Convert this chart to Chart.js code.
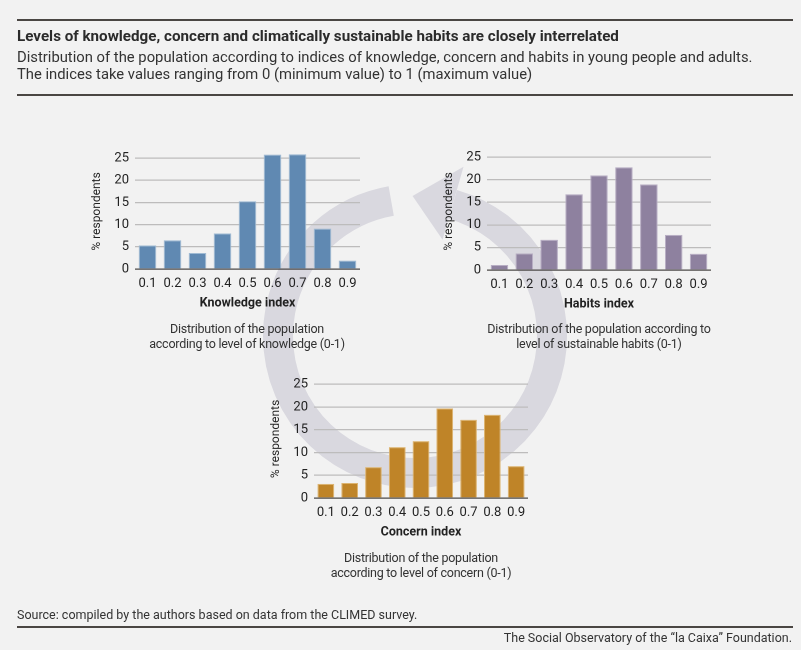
<!DOCTYPE html>
<html>
<head>
<meta charset="utf-8">
<script src="https://cdn.jsdelivr.net/npm/chart.js@4/dist/chart.umd.min.js"></script>
<style>
  html, body { margin: 0; padding: 0; }
  body { width: 801px; height: 650px; background: #f2f2f2; position: relative; overflow: hidden;
         font-family: Roboto, "Noto Sans", sans-serif; color: #333; }
  .abs { position: absolute; }
  .rule { position: absolute; left: 17px; width: 776px; height: 2px; background: #4a4643; }
  #title { left: 17px; top: 27px; font-size: 15.2px; font-weight: bold; color: #2b2b2b; white-space: nowrap; }
  #subtitle { left: 17px; top: 49px; font-size: 14.8px; line-height: 16.5px; color: #333; white-space: nowrap; }
  .caption { position: absolute; width: 300px; text-align: center; font-size: 12.5px; line-height: 15px; letter-spacing: -0.25px; color: #333; }
  #source { left: 17px; top: 607px; font-size: 12.5px; color: #333; white-space: nowrap; }
  #credit { right: 9px; top: 630px; font-size: 12.5px; color: #333; white-space: nowrap; }
  canvas.chart { position: absolute; }
</style>
</head>
<body>
<canvas id="ring" class="abs" width="801" height="650" style="left:0;top:0"></canvas>

<div class="rule" style="top:19px"></div>
<div id="title" class="abs">Levels of knowledge, concern and climatically sustainable habits are closely interrelated</div>
<div id="subtitle" class="abs">Distribution of the population according to indices of knowledge, concern and habits in young people and adults.<br>The indices take values ranging from 0 (minimum value) to 1 (maximum value)</div>
<div class="rule" style="top:94px"></div>

<canvas id="knowledgeChart" class="chart" style="left:90px;top:140px;width:275px;height:171px"></canvas>
<canvas id="habitsChart" class="chart" style="left:442px;top:139px;width:274px;height:173px"></canvas>
<canvas id="concernChart" class="chart" style="left:269px;top:366px;width:264px;height:174px"></canvas>

<div class="caption" style="left:97px;top:321px">Distribution of the population<br>according to level of knowledge (0-1)</div>
<div class="caption" style="left:449px;top:321px">Distribution of the population according to<br>level of sustainable habits (0-1)</div>
<div class="caption" style="left:271px;top:550px">Distribution of the population<br>according to level of concern (0-1)</div>

<div id="source" class="abs">Source: compiled by the authors based on data from the CLIMED survey.</div>
<div class="rule" style="top:626px"></div>
<div id="credit" class="abs">The Social Observatory of the “la Caixa” Foundation.</div>

<script>
// index categories (0-1)
var categorias = ['0.1', '0.2', '0.3', '0.4', '0.5', '0.6', '0.7', '0.8', '0.9'];
// % respondents per index level
var conhecimento = [5.3, 6.5, 3.6, 8.0, 15.3, 25.8, 25.9, 9.1, 1.9];
var habitos      = [1.1, 3.7, 6.7, 16.8, 21.0, 22.8, 19.0, 7.8, 3.6];
var preocupacao  = [3.1, 3.3, 6.8, 11.2, 12.5, 19.7, 17.2, 18.3, 7.0];
var ticksY = [0, 5, 10, 15, 20, 25];

(function () {

    // background circular arrow (decoration only)
    function desenharSeta() {
        var ctx = document.getElementById('ring').getContext('2d');
        var cx = 415, cy = 336, r = 137;
        var rad = Math.PI / 180;
        ctx.fillStyle = '#d9d8df';
        ctx.strokeStyle = '#d9d8df';
        ctx.lineWidth = 30;
        ctx.lineCap = 'butt';
        ctx.beginPath();
        ctx.arc(cx, cy, r, -74 * rad, 260 * rad);
        ctx.stroke();
        // arrow head
        var a = -74 * rad, t = -91 * rad;
        ctx.beginPath();
        ctx.moveTo(cx + 100 * Math.cos(a), cy + 100 * Math.sin(a));
        ctx.lineTo(cx + 176 * Math.cos(a), cy + 176 * Math.sin(a));
        ctx.lineTo(cx + 140 * Math.cos(t), cy + 140 * Math.sin(t));
        ctx.closePath();
        ctx.fill();
    }

    function gerarGrafico(id, valores, cor, borda, tituloX) {
        var canvas = document.getElementById(id);
        return new Chart(canvas, {
            type: 'bar',
            data: {
                labels: categorias,
                datasets: [{
                    data: valores,
                    backgroundColor: cor,
                    borderColor: borda,
                    borderWidth: {top: 1, left: 1, right: 1, bottom: 0},
                    barPercentage: 0.7,
                    categoryPercentage: 1
                }]
            },
            options: {
                responsive: false,
                animation: false,
                devicePixelRatio: 2,
                layout: {padding: {top: 5, right: 5, left: 0, bottom: 0}},
                plugins: {legend: {display: false}, tooltip: {enabled: false}},
                scales: {
                    x: {
                        grid: {display: false, drawTicks: false},
                        border: {display: false},
                        ticks: {color: '#222', padding: 7, font: {family: 'Roboto', size: 13}, maxRotation: 0},
                        title: {display: true, text: tituloX, color: '#222', padding: {top: 0, bottom: 0},
                                font: {family: 'Roboto', size: 12.5, weight: 'bold'}},
                        afterFit: function (scale) { scale.height = 42; }
                    },
                    y: {
                        min: 0,
                        max: 26,
                        grid: {
                            drawTicks: false,
                            lineWidth: 1.3,
                            color: function (c) { return c.tick && c.tick.value === 0 ? '#4d4a48' : '#bdbcbc'; }
                        },
                        border: {display: false},
                        afterBuildTicks: function (scale) {
                            scale.ticks = ticksY.map(function (v) { return {value: v}; });
                        },
                        ticks: {color: '#222', padding: 6, font: {family: 'Roboto', size: 13}},
                        title: {display: true, text: '% respondents', color: '#222', padding: {top: 0, bottom: 0},
                                font: {family: 'Roboto', size: 12}},
                        afterFit: function (scale) { scale.width = 45; }
                    }
                }
            }
        });
    }

    desenharSeta();
    gerarGrafico('knowledgeChart', conhecimento, '#6089b2', '#9fbad3', 'Knowledge index');
    gerarGrafico('habitsChart', habitos, '#8e819f', '#b7adc3', 'Habits index');
    gerarGrafico('concernChart', preocupacao, '#bf8428', '#dcb36f', 'Concern index');

})();
</script>
</body>
</html>
